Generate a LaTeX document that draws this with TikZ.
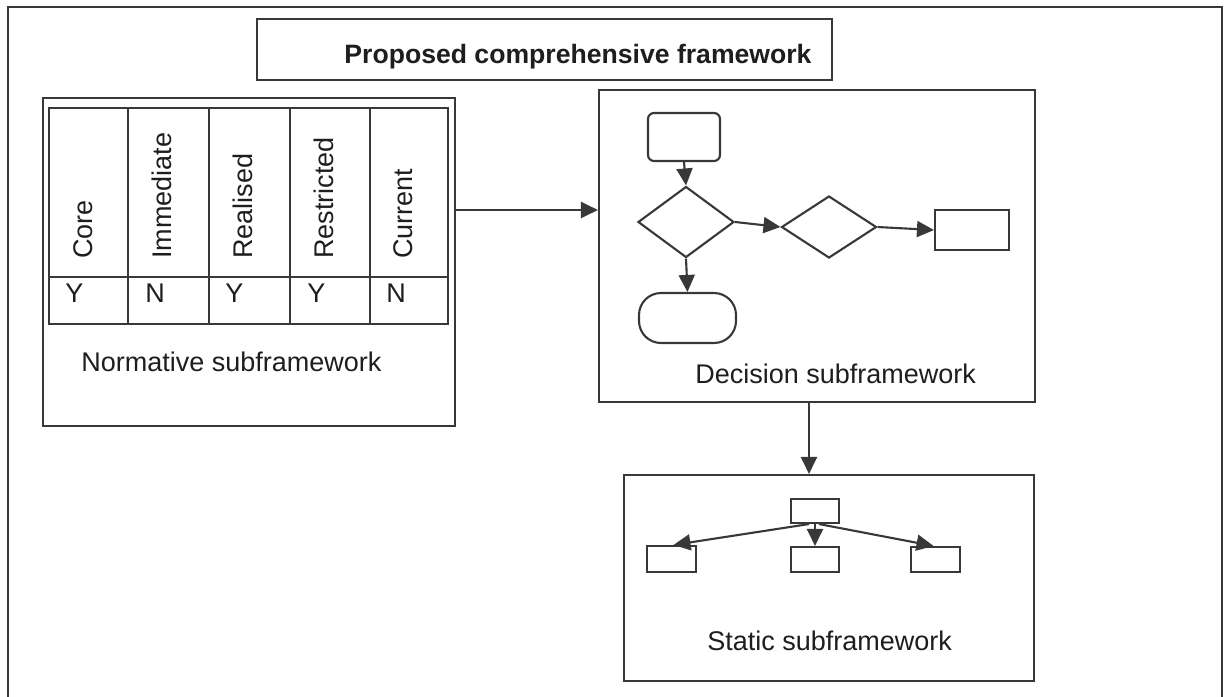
\documentclass[tikz,border=0pt]{standalone}
\usepackage{fontspec}
\setmainfont{Liberation Sans}
\usetikzlibrary{arrows.meta,shapes.geometric,calc}
\definecolor{ink}{HTML}{383838}
\definecolor{txt}{HTML}{1E1E1E}
\begin{document}
\begin{tikzpicture}[x=0.5pt,y=-0.5pt,
  line/.style={draw=ink, line width=1.05pt},
  box/.style={line, rectangle, inner sep=0pt, minimum width=#1},
  box/.default=10pt,
  rbox/.style={line, rectangle, rounded corners=#1, inner sep=0pt},
  dia/.style={line, diamond, inner sep=0pt},
  arr/.style={line, -{Triangle[length=8.5pt,width=8pt]}},
  lbl/.style={text=txt, font=\fontsize{13.5}{16}\selectfont, inner sep=0pt},
  ttl/.style={text=txt, font=\fontsize{13.3}{16}\selectfont\bfseries, inner sep=0pt}]

\useasboundingbox[fill=white] (0,0) rectangle (1228,697);

% outer frame (runs off the bottom of the page)
\draw[line] (8,7) rectangle (1222,740);

% title
\node[box=287.5pt, minimum height=30.5pt] (title) at (544.5,49.5) {};
\node[ttl, anchor=base] (titletext) at (578,63) {Proposed comprehensive framework};

% ---------- normative subframework ----------
\node[box=206pt, minimum height=164pt] (norm) at (249,262) {};
\node[box=199.5pt, minimum height=108pt] (tab) at (248.5,216) {};
\draw[line] (49,277) -- (448,277);
\foreach \x in {128,209,290,370} \draw[line] (\x,108) -- (\x,324);
\foreach \x/\t in {92/Core,171/Immediate,252/Realised,333/Restricted,412/Current}
  \node[lbl, rotate=90, anchor=base west] at (\x,259) {\t};
\foreach \x/\t in {65/Y,145/N,225/Y,307/Y,386/N}
  \node[lbl, anchor=base west] at (\x,302) {\t};
\node[lbl, anchor=base west] (normlbl) at (81,371) {Normative subframework};

% ---------- decision subframework ----------
\node[box=218pt, minimum height=156pt] (dec) at (817,246) {};
\node[rbox=3pt, minimum width=36pt, minimum height=24pt] (start) at (684,137) {};
\node[dia, minimum width=48pt, minimum height=35.5pt] (d1) at (686,222) {};
\node[dia, minimum width=47.5pt, minimum height=31pt] (d2) at (829,227) {};
\node[box=37pt, minimum height=20pt] (fin) at (972,230) {};
\node[rbox=11pt, minimum width=48.5pt, minimum height=25pt] (term) at (687.5,318) {};
\draw[arr] (start.south) -- (d1.north);
\draw[arr] (d1.east) -- (d2.west);
\draw[arr] (d2.east) -- (fin.west);
\draw[arr] (d1.south) -- (term.north);
\node[lbl, anchor=base west] (declbl) at (695,383) {Decision subframework};

% ---------- static subframework ----------
\node[box=205pt, minimum height=103pt] (stat) at (829,578) {};
\node[box=24pt, minimum height=12pt] (top) at (815,511) {};
\node[box=24.5pt, minimum height=13pt] (sl) at (671.5,559) {};
\node[box=24pt, minimum height=12.5pt] (sm) at (815,559.5) {};
\node[box=24.5pt, minimum height=12.5pt] (sr) at (935.5,559.5) {};
\draw[arr] ([xshift=-3pt]top.south) -- ([xshift=1pt]sl.north);
\draw[arr] (top.south) -- (sm.north);
\draw[arr] ([xshift=2pt]top.south) -- ([xshift=-1pt]sr.north);
\node[lbl, anchor=base west] (statlbl) at (707,650) {Static subframework};

% ---------- links between subframeworks ----------
\coordinate (row) at (0,210);
\coordinate (col) at (809,0);
\draw[arr] (norm.east |- row) -- (dec.west |- row);
\draw[arr] (dec.south -| col) -- (stat.north -| col);
\end{tikzpicture}
\end{document}
